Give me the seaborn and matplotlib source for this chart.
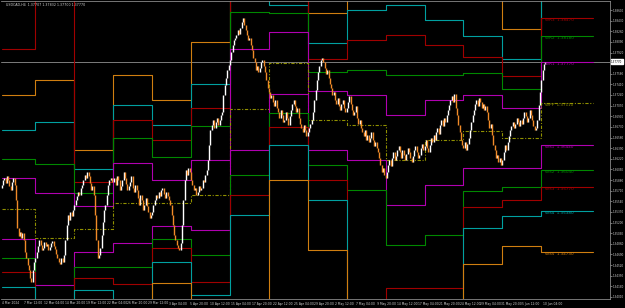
import matplotlib
matplotlib.use("Agg")
import matplotlib.pyplot as plt
import numpy as np
import pandas as pd
import seaborn as sns

sns.set_style("dark", {"axes.facecolor": "black", "figure.facecolor": "black"})
plt.rcParams['font.family'] = ['DejaVu Sans']

# ---------------- data ----------------
chart_title = "USDCAD,H4  1.37707 1.37832 1.37700 1.37770"
first_open = 1.3576
wk00 = [1.3580, 1.3588, 1.3591, 1.3583, 1.3594, 1.3588, 1.3578, 1.3572, 1.3585, 1.3591, 1.3580, 1.3556, 1.3511,
        1.3498, 1.3505, 1.3495, 1.3503, 1.3492, 1.3473, 1.3463, 1.3452, 1.3444, 1.3431, 1.3425, 1.3444, 1.3457]
wk01 = [1.3463, 1.3473, 1.3482, 1.3492, 1.3484, 1.3476, 1.3479, 1.3489, 1.3482, 1.3486, 1.3476, 1.3481, 1.3487, 1.3490, 1.3482,
        1.3478, 1.3470, 1.3463, 1.3457, 1.3454, 1.3463, 1.3457, 1.3468, 1.3492, 1.3516, 1.3532, 1.3524, 1.3537, 1.3530, 1.3540]
wk02 = [1.3548, 1.3556, 1.3562, 1.3569, 1.3564, 1.3575, 1.3580, 1.3588, 1.3596, 1.3591, 1.3601, 1.3594, 1.3583, 1.3572, 1.3578,
        1.3564, 1.3532, 1.3492, 1.3463, 1.3468, 1.3479, 1.3500, 1.3521, 1.3540, 1.3548, 1.3564, 1.3580, 1.3588, 1.3591, 1.3585]
wk03 = [1.3585, 1.3591, 1.3580, 1.3594, 1.3588, 1.3572, 1.3578, 1.3588, 1.3601, 1.3591, 1.3582, 1.3572, 1.3578, 1.3585, 1.3594,
        1.3575, 1.3569, 1.3580, 1.3572, 1.3559, 1.3548, 1.3564, 1.3556, 1.3540, 1.3548, 1.3559, 1.3546, 1.3537, 1.3527, 1.3532]
wk04 = [1.3537, 1.3548, 1.3556, 1.3564, 1.3559, 1.3569, 1.3562, 1.3572, 1.3575, 1.3566, 1.3559, 1.3569, 1.3562, 1.3556, 1.3548,
        1.3532, 1.3516, 1.3500, 1.3492, 1.3484, 1.3479, 1.3476, 1.3487, 1.3516, 1.3556, 1.3588, 1.3604, 1.3596, 1.3607, 1.3601]
wk05 = [1.3588, 1.3580, 1.3572, 1.3575, 1.3564, 1.3569, 1.3578, 1.3572, 1.3575, 1.3588, 1.3585, 1.3596, 1.3604, 1.3620, 1.3644,
        1.3668, 1.3676, 1.3684, 1.3671, 1.3681, 1.3687, 1.3676, 1.3684, 1.3692, 1.3697, 1.3724, 1.3740, 1.3751, 1.3764, 1.3772]
wk06 = [1.3780, 1.3793, 1.3804, 1.3812, 1.3815, 1.3820, 1.3828, 1.3822, 1.3831, 1.3841, 1.3847, 1.3836, 1.3828, 1.3820, 1.3812,
        1.3815, 1.3804, 1.3796, 1.3783, 1.3777, 1.3764, 1.3770, 1.3761, 1.3767, 1.3777, 1.3780, 1.3770, 1.3761, 1.3748, 1.3735]
wk07 = [1.3729, 1.3719, 1.3724, 1.3713, 1.3706, 1.3716, 1.3703, 1.3697, 1.3687, 1.3700, 1.3692, 1.3681, 1.3684, 1.3697, 1.3687,
        1.3676, 1.3690, 1.3700, 1.3710, 1.3716, 1.3706, 1.3697, 1.3703, 1.3687, 1.3678, 1.3671, 1.3665, 1.3676, 1.3668, 1.3658]
wk08 = [1.3665, 1.3671, 1.3678, 1.3684, 1.3697, 1.3716, 1.3732, 1.3748, 1.3761, 1.3770, 1.3780, 1.3783, 1.3777, 1.3767, 1.3758,
        1.3764, 1.3751, 1.3742, 1.3735, 1.3724, 1.3729, 1.3716, 1.3710, 1.3719, 1.3706, 1.3700, 1.3710, 1.3716, 1.3703, 1.3697]
wk09 = [1.3703, 1.3713, 1.3722, 1.3710, 1.3700, 1.3692, 1.3697, 1.3706, 1.3687, 1.3678, 1.3684, 1.3671, 1.3665, 1.3658, 1.3668,
        1.3652, 1.3660, 1.3649, 1.3655, 1.3665, 1.3652, 1.3642, 1.3649, 1.3639, 1.3633, 1.3623, 1.3612, 1.3601, 1.3607, 1.3596]
wk10 = [1.3591, 1.3601, 1.3612, 1.3620, 1.3610, 1.3623, 1.3633, 1.3620, 1.3626, 1.3636, 1.3642, 1.3633, 1.3623, 1.3636, 1.3628,
        1.3620, 1.3630, 1.3639, 1.3633, 1.3623, 1.3617, 1.3626, 1.3636, 1.3642, 1.3633, 1.3623, 1.3628, 1.3639, 1.3646, 1.3636]
wk11 = [1.3642, 1.3652, 1.3639, 1.3633, 1.3644, 1.3655, 1.3649, 1.3660, 1.3652, 1.3665, 1.3671, 1.3662, 1.3676, 1.3684, 1.3674,
        1.3687, 1.3681, 1.3692, 1.3700, 1.3708, 1.3716, 1.3722, 1.3713, 1.3726, 1.3703, 1.3692, 1.3676, 1.3665, 1.3652, 1.3644]
wk12 = [1.3639, 1.3649, 1.3636, 1.3646, 1.3655, 1.3668, 1.3681, 1.3692, 1.3700, 1.3710, 1.3716, 1.3706, 1.3719, 1.3713, 1.3703,
        1.3710, 1.3700, 1.3706, 1.3697, 1.3684, 1.3671, 1.3678, 1.3660, 1.3644, 1.3636, 1.3623, 1.3628, 1.3617, 1.3623, 1.3612]
wk13 = [1.3620, 1.3633, 1.3644, 1.3636, 1.3649, 1.3658, 1.3668, 1.3674, 1.3681, 1.3671, 1.3678, 1.3687, 1.3681, 1.3674, 1.3684,
        1.3678, 1.3687, 1.3697, 1.3690, 1.3681, 1.3687, 1.3700, 1.3692, 1.3684, 1.3674, 1.3668, 1.3671, 1.3684, 1.3708, 1.3729]
wk14 = [1.3748, 1.3764, 1.3774, 1.3777]

# weekly pivot segments (bar index where each week starts; last one runs to week_last_end)
week_start = [0, 26, 56, 86, 116, 146, 176, 206, 236, 266, 296, 326, 356, 386, 416]
week_last_end = 456

lvl_R5 = [1.3724, 1.3748, 1.3636, 1.3756, 1.3716, 1.3809, 1.3924, 1.3892, 1.3855, 1.3908, 1.3940, 1.3892, 1.3908, 1.3830, 1.3940]
lvl_R4 = [1.3668, 1.3681, 1.3606, 1.3708, 1.3676, 1.3742, 1.3892, 1.3868, 1.3807, 1.3860, 1.3868, 1.3844, 1.3818, 1.3782, 1.3908]
lvl_R3 = [1.3798, 1.3900, 1.3585, 1.3684, 1.3652, 1.3703, 1.3884, 1.3881, 1.3782, 1.3812, 1.3820, 1.3804, 1.3785, 1.3754, 1.3847]
lvl_R2 = [1.3622, 1.3614, 1.3567, 1.3655, 1.3625, 1.3674, 1.3857, 1.3855, 1.3761, 1.3764, 1.3756, 1.3756, 1.3759, 1.3734, 1.3818]
lvl_R1 = [1.3591, 1.3567, 1.3546, 1.3615, 1.3588, 1.3620, 1.3798, 1.3825, 1.3730, 1.3724, 1.3692, 1.3716, 1.3724, 1.3703, 1.3777]
lvl_PP = [1.3542, 1.3495, 1.3510, 1.3551, 1.3551, 1.3564, 1.3702, 1.3775, 1.3684, 1.3676, 1.3620, 1.3652, 1.3667, 1.3655, 1.3711]
lvl_S1 = [1.3494, 1.3420, 1.3473, 1.3488, 1.3514, 1.3508, 1.3636, 1.3726, 1.3636, 1.3620, 1.3548, 1.3580, 1.3607, 1.3607, 1.3644]
lvl_S2 = [1.3463, 1.3388, 1.3449, 1.3449, 1.3494, 1.3468, 1.3596, 1.3695, 1.3612, 1.3572, 1.3484, 1.3500, 1.3570, 1.3577, 1.3604]
lvl_S3 = [1.3441, 1.3364, 1.3431, 1.3422, 1.3479, 1.3425, 1.3564, 1.3673, 1.3588, 1.3380, 1.3415, 1.3415, 1.3545, 1.3556, 1.3577]
lvl_S4 = [1.3417, 1.3340, 1.3412, 1.3396, 1.3457, 1.3404, 1.3532, 1.3644, 1.3556, 1.3348, 1.3364, 1.3372, 1.3511, 1.3530, 1.3538]
lvl_S5 = [1.3380, 1.3320, 1.3364, 1.3364, 1.3423, 1.3364, 1.3360, 1.3588, 1.3476, 1.3300, 1.3300, 1.3316, 1.3454, 1.3482, 1.3473]

level_names = ["WR5", "WR4", "WR3", "WR2", "WR1", "WPP", "WS1", "WS2", "WS3", "WS4", "WS5"]
level_colors = ["#d07e10", "#00a0a0", "#a00000", "#008800", "#b000b0", "#909000",
                "#b000b0", "#008800", "#a00000", "#00a0a0", "#d07e10"]

x_tick_labels = ["4 Mar 2024", "7 Mar 12:00", "12 Mar 04:00", "14 Mar 20:00", "19 Mar 12:00", "22 Mar 04:00",
                 "26 Mar 20:00", "29 Mar 12:00", "3 Apr 04:00", "5 Apr 20:00", "10 Apr 12:00", "15 Apr 04:00",
                 "17 Apr 20:00", "22 Apr 12:00", "25 Apr 04:00", "29 Apr 20:00", "2 May 12:00", "7 May 04:00",
                 "9 May 20:00", "14 May 12:00", "17 May 04:00", "21 May 20:00", "24 May 12:00", "29 May 04:00",
                 "31 May 20:00", "5 Jun 12:00", "10 Jun 04:00"]
x_tick_bars = [0] + [17 + 16 * i for i in range(26)]

y_top, y_bottom = 1.38744, 1.33976
y_ticks = [round(1.3860 - 0.0017 * k, 5) for k in range(28)]

# ---------------- figure ----------------
W, H = 625, 308
fig = plt.figure(figsize=(W / 100, H / 100), dpi=100)
fig.patch.set_facecolor("black")
ax = fig.add_axes([1 / W, 9 / H, 609 / W, 298 / H])
ax.set_facecolor("black")
ax.grid(False)

closes = np.array(wk00 + wk01 + wk02 + wk03 + wk04 + wk05 + wk06 + wk07 + wk08 + wk09 +
                  wk10 + wk11 + wk12 + wk13 + wk14)
opens = np.concatenate([[first_open], closes[:-1]])
bars = np.arange(len(closes))
up = closes >= opens
px = 72 / 100  # one pixel in points
ax.vlines(bars[up], opens[up], closes[up], colors="#ffffff", linewidth=1.4 * px, zorder=4)
ax.vlines(bars[~up], closes[~up], opens[~up], colors="#f08a28", linewidth=1.4 * px, zorder=4)

# pivot step lines
levels = [lvl_R5, lvl_R4, lvl_R3, lvl_R2, lvl_R1, lvl_PP, lvl_S1, lvl_S2, lvl_S3, lvl_S4, lvl_S5]
xs = week_start + [week_last_end]
for name, vals, col in zip(level_names, levels, level_colors):
    ys = list(vals) + [vals[-1]]
    ls = (0, (3, 1.5, 1, 1.5)) if name == "WPP" else "-"
    ax.plot(xs, ys, color=col, drawstyle="steps-post", linewidth=1.1 * px, linestyle=ls,
            snap=True, zorder=2)
    v = vals[-1]
    if y_bottom < v < y_top:
        ax.text(419, v, f"{name}  {v:.5f}", color=col, fontsize=3.0, va="top", ha="left", zorder=5)

# current price line
last = closes[-1]
sns.lineplot(x=[-0.5, 469], y=[last, last], ax=ax, color="#787878", linewidth=1.0 * px, zorder=1,
             estimator=None, legend=False)

ax.set_xlim(-0.5, 469)
ax.set_ylim(y_bottom, y_top)
ax.set_xlabel("")
ax.set_ylabel("")

shown_ticks = [t for t in y_ticks if abs(t - last) > 0.0008]
ax.yaxis.tick_right()
ax.set_yticks(shown_ticks)
ax.set_yticklabels([f"{t:.5f}" for t in shown_ticks], fontsize=2.0, color="#d0d0d0")
ax.set_xticks(x_tick_bars)
ax.set_xticklabels(x_tick_labels, fontsize=2.2, color="#d0d0d0", ha="left")
ax.tick_params(axis="both", length=1.2, width=0.5, color="#a0a0a0", pad=0.6)
for s in ax.spines.values():
    s.set_color("#909090")
    s.set_linewidth(0.8 * px)
ax.spines["left"].set_visible(False)

# price box
ax.text(1.002, (last - y_bottom) / (y_top - y_bottom), f"{last:.5f}", transform=ax.transAxes,
        fontsize=2.0, color="black", va="center", ha="left",
        bbox=dict(boxstyle="square,pad=0.2", fc="white", ec="white"), zorder=6, clip_on=False)

ax.text(0.008, 0.994, chart_title, transform=ax.transAxes, fontsize=2.3, color="#d0d0d0",
        va="top", ha="left", zorder=6)

fig.savefig("out.png", dpi=100, facecolor="black")
